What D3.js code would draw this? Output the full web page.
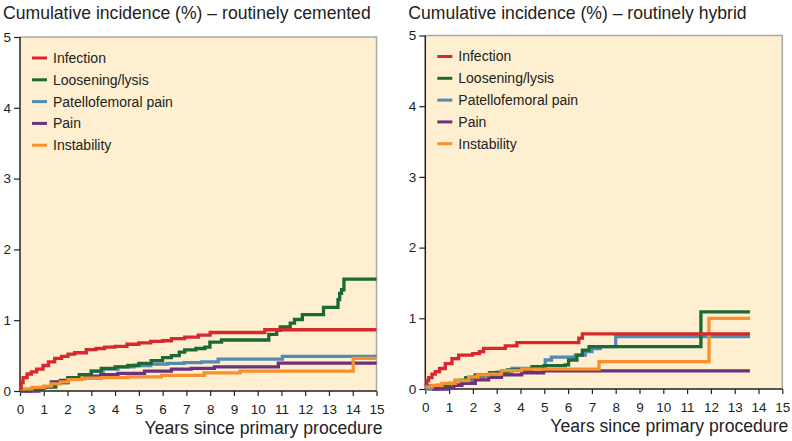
<!DOCTYPE html>
<html>
<head>
<meta charset="utf-8">
<script src="https://cdn.jsdelivr.net/npm/d3@7"></script>
<style>
  body { margin: 0; background: #fff; }
  svg { display: block; font-family: "Liberation Sans", Arial, Helvetica, sans-serif; }
  .tick text { font-size: 13.5px; fill: #222; }
  .tick line { stroke: #222; stroke-width: 1.2; }
</style>
</head>
<body>
<svg id="chart" width="792" height="441"></svg>
<script>
const YEARS = d3.range(0, 16);
const Y_TICKS = [0, 1, 2, 3, 4, 5];
const SERIES_NAMES = ['Infection', 'Loosening/lysis', 'Patellofemoral pain', 'Pain', 'Instability'];
const SERIES_COLORS = ['#d6282d', '#1b6a36', '#5389b4', '#6e2f7f', '#f7902d'];

// routinely cemented: [years, cumulative incidence %]
const cementedInfection = [[0, 0.04], [0.05, 0.12], [0.13, 0.19], [0.3, 0.24], [0.48, 0.27], [0.7, 0.31], [0.97, 0.36], [1.2, 0.41], [1.46, 0.46], [1.75, 0.49], [2.02, 0.52], [2.3, 0.54], [2.79, 0.585], [3.2, 0.6], [3.56, 0.62], [4.0, 0.63], [4.5, 0.66], [5.0, 0.68], [5.5, 0.7], [6.0, 0.71], [6.37, 0.74], [6.93, 0.76], [7.5, 0.79], [8.0, 0.826], [10.3, 0.865], [15, 0.865]];
const cementedLoosening = [[0, 0.02], [0.5, 0.03], [1.0, 0.06], [1.5, 0.12], [2.02, 0.19], [2.5, 0.23], [3.0, 0.28], [3.42, 0.32], [4.0, 0.34], [4.54, 0.36], [5.0, 0.39], [5.52, 0.43], [6.0, 0.47], [6.37, 0.5], [6.7, 0.55], [6.93, 0.58], [7.4, 0.6], [7.78, 0.62], [7.99, 0.69], [8.48, 0.72], [10.47, 0.8], [10.8, 0.855], [10.95, 0.905], [11.37, 0.96], [11.55, 1.01], [11.88, 1.08], [12.77, 1.18], [13.38, 1.29], [13.45, 1.38], [13.53, 1.43], [13.63, 1.58], [15, 1.58]];
const cementedPatellofemoral = [[0, 0.0], [0.5, 0.02], [1.0, 0.06], [1.5, 0.12], [2.0, 0.18], [2.5, 0.23], [3.0, 0.28], [3.5, 0.31], [4.12, 0.34], [4.8, 0.36], [5.5, 0.38], [6.2, 0.39], [6.9, 0.4], [7.64, 0.41], [8.34, 0.45], [11.04, 0.49], [15, 0.49]];
const cementedPain = [[0, 0.0], [0.8, 0.02], [1.0, 0.06], [1.32, 0.13], [1.7, 0.15], [2.02, 0.175], [2.72, 0.21], [3.4, 0.23], [4.12, 0.25], [5.24, 0.28], [6.37, 0.31], [7.2, 0.32], [8.18, 0.34], [10.87, 0.395], [15, 0.395]];
const cementedInstability = [[0, 0.03], [0.5, 0.05], [1.0, 0.07], [1.32, 0.1], [1.7, 0.13], [2.02, 0.16], [2.6, 0.18], [3.42, 0.19], [4.54, 0.2], [5.95, 0.22], [7.75, 0.255], [9.26, 0.28], [14.02, 0.46], [15, 0.46]];

// routinely hybrid
const hybridInfection = [[0, 0.08], [0.07, 0.12], [0.14, 0.16], [0.28, 0.21], [0.42, 0.245], [0.6, 0.29], [0.84, 0.36], [1.12, 0.43], [1.4, 0.48], [1.99, 0.5], [2.27, 0.53], [2.45, 0.575], [3.36, 0.61], [3.85, 0.655], [6.45, 0.72], [6.6, 0.78], [13.64, 0.78]];
const hybridLoosening = [[0, 0.04], [0.5, 0.05], [1.0, 0.08], [1.26, 0.12], [1.7, 0.16], [2.1, 0.2], [2.7, 0.23], [3.45, 0.27], [4.48, 0.315], [5.0, 0.33], [5.88, 0.34], [6.02, 0.41], [6.37, 0.48], [6.6, 0.55], [6.88, 0.6], [11.58, 1.09], [13.64, 1.09]];
const hybridPatellofemoral = [[0, 0.0], [0.5, 0.03], [1.0, 0.06], [1.5, 0.12], [2.0, 0.17], [2.5, 0.2], [3.0, 0.24], [3.64, 0.29], [5.04, 0.41], [5.3, 0.45], [6.3, 0.48], [6.72, 0.53], [7.0, 0.57], [7.35, 0.6], [8.0, 0.74], [13.64, 0.74]];
const hybridPain = [[0.3, 0.0], [0.98, 0.02], [1.2, 0.05], [1.54, 0.08], [2.1, 0.13], [2.66, 0.165], [3.2, 0.2], [4.05, 0.23], [4.97, 0.255], [13.64, 0.255]];
const hybridInstability = [[0, 0.03], [0.3, 0.05], [0.7, 0.08], [1.26, 0.12], [1.82, 0.17], [2.2, 0.2], [2.66, 0.21], [3.2, 0.26], [4.05, 0.28], [7.3, 0.386], [11.92, 1.0], [13.64, 1.0]];

const panels = [
  {
    title: 'Cumulative incidence (%) \u2013 routinely cemented',
    left: 20, right: 376.5, top: 37, bottom: 391,
    series: [cementedInfection, cementedLoosening, cementedPatellofemoral, cementedPain, cementedInstability],
  },
  {
    title: 'Cumulative incidence (%) \u2013 routinely hybrid',
    left: 425.3, right: 782.3, top: 35.5, bottom: 389,
    series: [hybridInfection, hybridLoosening, hybridPatellofemoral, hybridPain, hybridInstability],
  },
];

const DRAW_ORDER = [2, 3, 1, 4, 0];

const svg = d3.select('#chart');

function drawPanel(p) {
  const x = d3.scaleLinear().domain([0, 15]).range([p.left, p.right]);
  const y = d3.scaleLinear().domain([0, 5]).range([p.bottom, p.top]);
  const g = svg.append('g');

  g.append('text')
    .attr('x', p.left - 17)
    .attr('y', 19)
    .attr('font-size', 17.6)
    .attr('fill', '#222')
    .text(p.title);

  g.append('rect')
    .attr('x', p.left)
    .attr('y', p.top)
    .attr('width', p.right - p.left)
    .attr('height', p.bottom - p.top)
    .attr('fill', '#fdefd0');

  // frame: grey top/right, dark axes
  g.append('path')
    .attr('d', `M${p.left},${p.top}H${p.right}V${p.bottom}`)
    .attr('fill', 'none')
    .attr('stroke', '#a9a9a9')
    .attr('stroke-width', 1.5);

  const xAxis = g.append('g')
    .attr('transform', `translate(0,${p.bottom})`)
    .call(d3.axisBottom(x).tickValues(YEARS).tickSize(5).tickPadding(8).tickFormat(d3.format('d')));
  xAxis.select('.domain').remove();

  const yAxis = g.append('g')
    .attr('transform', `translate(${p.left},0)`)
    .call(d3.axisLeft(y).tickValues(Y_TICKS).tickSize(6).tickPadding(3).tickFormat(d3.format('d')));
  yAxis.select('.domain').remove();

  g.append('path')
    .attr('d', `M${p.left},${p.top}V${p.bottom}H${p.right}`)
    .attr('fill', 'none')
    .attr('stroke', '#222')
    .attr('stroke-width', 1.5);

  g.append('text')
    .attr('x', p.right + 6)
    .attr('y', p.bottom + 43)
    .attr('text-anchor', 'end')
    .attr('font-size', 17.6)
    .attr('fill', '#222')
    .text('Years since primary procedure');

  const line = d3.line()
    .curve(d3.curveStepAfter)
    .x((d) => x(d[0]))
    .y((d) => y(d[1]));

  g.append('g')
    .selectAll('path')
    .data(DRAW_ORDER)
    .enter()
      .append('path')
      .attr('d', (i) => line(p.series[i]))
      .attr('fill', 'none')
      .attr('stroke', (i) => SERIES_COLORS[i])
      .attr('stroke-width', 3.3);

  const legend = g.append('g')
    .attr('transform', `translate(${p.left + 12},${p.top + 21})`);
  const rows = legend
    .selectAll('g')
    .data(SERIES_NAMES)
    .enter()
      .append('g')
      .attr('transform', (d, i) => `translate(0,${i * 21.8})`);
  rows.append('line')
    .attr('x1', 0)
    .attr('x2', 15)
    .attr('stroke', (d, i) => SERIES_COLORS[i])
    .attr('stroke-width', 3);
  rows.append('text')
    .attr('x', 21)
    .attr('dy', '0.35em')
    .attr('font-size', 14)
    .attr('fill', '#222')
    .text((d) => d);
}

panels.forEach(drawPanel);
</script>
</body>
</html>
